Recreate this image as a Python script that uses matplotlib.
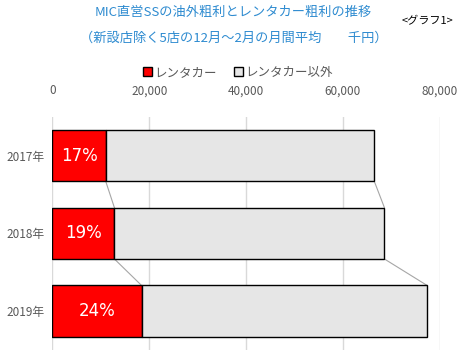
import numpy as np
import matplotlib.pyplot as plt

plt.rcParams['font.family'] = ['Noto Sans CJK JP', 'DejaVu Sans']

# データ（千円、読み取り値）
nendo = ['2017年', '2018年', '2019年']
rentacar = [11000, 12800, 18400]
goukei = [66500, 68600, 77400]
hiritsu = ['17%', '19%', '24%']
igai = [g - r for g, r in zip(goukei, rentacar)]

fig = plt.figure(figsize=(4.67, 3.52), dpi=100)
ax = fig.add_axes([0.1124, 0.006, 0.829, 0.662])

y = np.arange(len(nendo))
h = 0.66
ax.barh(y, rentacar, height=h, color='#FF0000', edgecolor='black', linewidth=1.0, zorder=3, label='レンタカー')
ax.barh(y, igai, left=rentacar, height=h, color='#E6E6E6', edgecolor='black', linewidth=1.0, zorder=3, label='レンタカー以外')

for i in range(len(nendo)):
    ax.text(rentacar[i] / 2, y[i], hiritsu[i], color='white', fontsize=12,
            ha='center', va='center', zorder=4, family=['DejaVu Sans'])

# 区分線
for i in range(len(nendo) - 1):
    ax.plot([rentacar[i], rentacar[i + 1]], [y[i] + h / 2, y[i + 1] - h / 2],
            color='#A6A6A6', linewidth=0.8, zorder=2)
    ax.plot([goukei[i], goukei[i + 1]], [y[i] + h / 2, y[i + 1] - h / 2],
            color='#A6A6A6', linewidth=0.8, zorder=2)

ax.set_xlim(0, 80000)
ax.set_ylim(2.5, -0.5)
ax.set_xticks(np.arange(0, 80001, 20000))
ax.set_xticklabels(['{:,}'.format(v) for v in range(0, 80001, 20000)])
ax.xaxis.tick_top()
ax.set_yticks(y)
ax.set_yticklabels(nendo)
ax.tick_params(axis='both', length=0, labelsize=8.5, colors='#595959', pad=6)
ax.tick_params(axis='x', pad=14)
ax.grid(axis='x', color='#D9D9D9', linewidth=1.0, zorder=0)
for s in ax.spines.values():
    s.set_visible(False)

fig.text(0.5, 0.965, 'MIC直営SSの油外粗利とレンタカー粗利の推移', ha='center', va='center',
         fontsize=9.5, color='#2E8BD0')
fig.text(0.5, 0.89, '（新設店除く5店の12月～2月の月間平均　　千円）', ha='center', va='center',
         fontsize=9.5, color='#2E8BD0')
fig.text(0.915, 0.94, '<グラフ1>', ha='center', va='center', fontsize=8, color='black')

fig.legend(loc='center', bbox_to_anchor=(0.51, 0.795), ncol=2, frameon=False, fontsize=9,
           handlelength=0.7, handleheight=0.7, handletextpad=0.2, columnspacing=1.4,
           labelcolor='#595959')

fig.savefig('out.png', dpi=100)
